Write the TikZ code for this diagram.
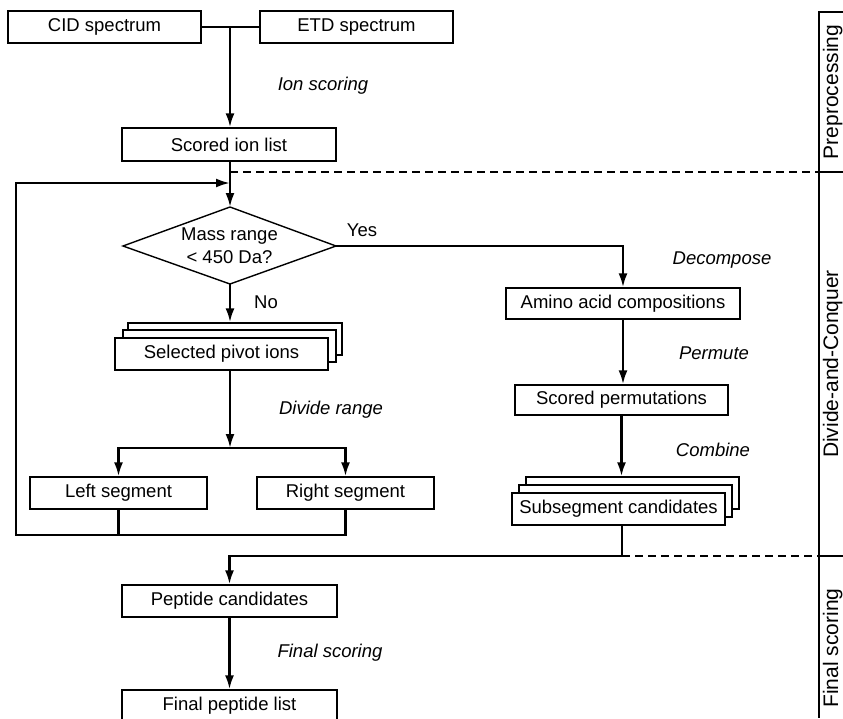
\documentclass[tikz,border=0pt]{standalone}
\usepackage{fontspec}
\setmainfont{Liberation Sans}
\usetikzlibrary{arrows.meta}
\begin{document}
\begin{tikzpicture}[x=1pt,y=-1pt,
  every node/.style={font=\fontsize{18.5}{23}\selectfont},
  box/.style={draw, line width=1.4pt, fill=white, minimum height=32pt, inner sep=0pt},
  conn/.style={line width=2.4pt},
  arr/.style={conn, -{Latex[length=14pt,width=9pt]}},
  lbl/.style={font=\fontsize{18.5}{23}\selectfont\itshape},
  sect/.style={font=\fontsize{21}{25}\selectfont, rotate=90, anchor=base},
  sep/.style={line width=1.4pt, dash pattern=on 8pt off 5pt},
  frame/.style={line width=1.4pt}
]
\useasboundingbox (0,0) rectangle (843,718);

% Preprocessing
\node[box,minimum width=193pt] (cid) at (104.5,27) {CID spectrum};
\node[box,minimum width=193pt] (etd) at (356.5,27) {ETD spectrum};
\node[box,minimum width=214pt,minimum height=33pt] (sil) at (229,144.5) {Scored ion list};
\coordinate (j1) at (230,27);
\draw[conn] (cid.east) -- (etd.west);
\draw[arr] (j1) -- (j1 |- sil.north);
\node[lbl] (ion) at (323,86) {Ion scoring};

% Decision
\node[align=center] (dtext) at (229.5,246) {Mass range\\< 450 Da?};
\coordinate (dT) at (230,207);
\coordinate (dB) at (230,284);
\coordinate (dL) at (123,246);
\coordinate (dR) at (336,246);
\draw[frame] (dL) -- (dT) -- (dR) -- (dB) -- cycle;
\coordinate (lp) at (230,183);
\draw[arr] (lp |- sil.south) -- (dT);
\node (yes) at (362,230) {Yes};
\node (no) at (266,302) {No};

% Left branch
\node[box,minimum width=214pt] (piv3) at (235,339) {};
\node[box,minimum width=213pt] (piv2) at (229.5,346) {};
\node[box,minimum width=213pt] (piv) at (221.5,354) {Selected pivot ions};
\draw[arr] (dB) -- (dB |- piv3.north);
\coordinate (j2) at (230,448);
\node[lbl] (div) at (331,410) {Divide range};
\node[box,minimum width=177pt] (lseg) at (118.5,493) {Left segment};
\node[box,minimum width=177pt] (rseg) at (345.5,493) {Right segment};
\draw[arr] (j2 |- piv.south) -- (j2);
\draw[arr] (j2) -| (lseg.north);
\draw[arr] (j2) -| (rseg.north);
\coordinate (lb) at (16,535);
\draw[conn] (lseg.south) -- (lseg.south |- lb);
\draw[arr] (rseg.south) |- (lb) |- (lp);

% Right branch
\node[box,minimum width=234pt,minimum height=31pt] (amino) at (623,303.5) {Amino acid compositions};
\node[box,minimum width=213pt,minimum height=30pt] (perm) at (621.5,400) {Scored permutations};
\node[box,minimum width=213pt] (sub3) at (632.5,493) {};
\node[box,minimum width=213pt] (sub2) at (625.5,501) {};
\node[box,minimum width=213pt] (sub) at (618.5,509) {Subsegment candidates};
\draw[arr] (dR) -| (amino.north);
\draw[arr] (amino.south) -- (amino.south |- perm.north);
\draw[arr] (perm.south) -- (perm.south |- sub3.north);
\node[lbl] (dec) at (722,260) {Decompose};
\node[lbl] (pmt) at (714,353) {Permute};
\node[lbl] (cmb) at (713,450) {Combine};

% Final scoring
\coordinate (j3) at (622,556);
\node[box,minimum width=215pt] (pep) at (229.5,601) {Peptide candidates};
\node[box,minimum width=215pt] (fin) at (229.5,706) {Final peptide list};
\draw[arr] (j3 |- sub.south) -- (j3) -| (pep.north);
\draw[arr] (pep.south) -- (fin.north);
\node[lbl] (fsc) at (330,653) {Final scoring};

% Separators and section frame
\coordinate (s1) at (230,172);
\coordinate (f0) at (819,12);
\coordinate (f1) at (819,172);
\coordinate (f2) at (819,556);
\coordinate (fe) at (819,718);
\draw[sep] (s1) -- (f1);
\draw[sep] (j3) -- (f2);
\draw[frame] (843,12) -- (f0) -- (fe);
\draw[frame] (f1) -- ++(24,0);
\draw[frame] (f2) -- ++(24,0);
\node[sect] (sp) at (838,92) {Preprocessing};
\node[sect] (sd) at (838,364) {Divide-and-Conquer};
\node[sect] (sf) at (838,648) {Final scoring};
\end{tikzpicture}
\end{document}
